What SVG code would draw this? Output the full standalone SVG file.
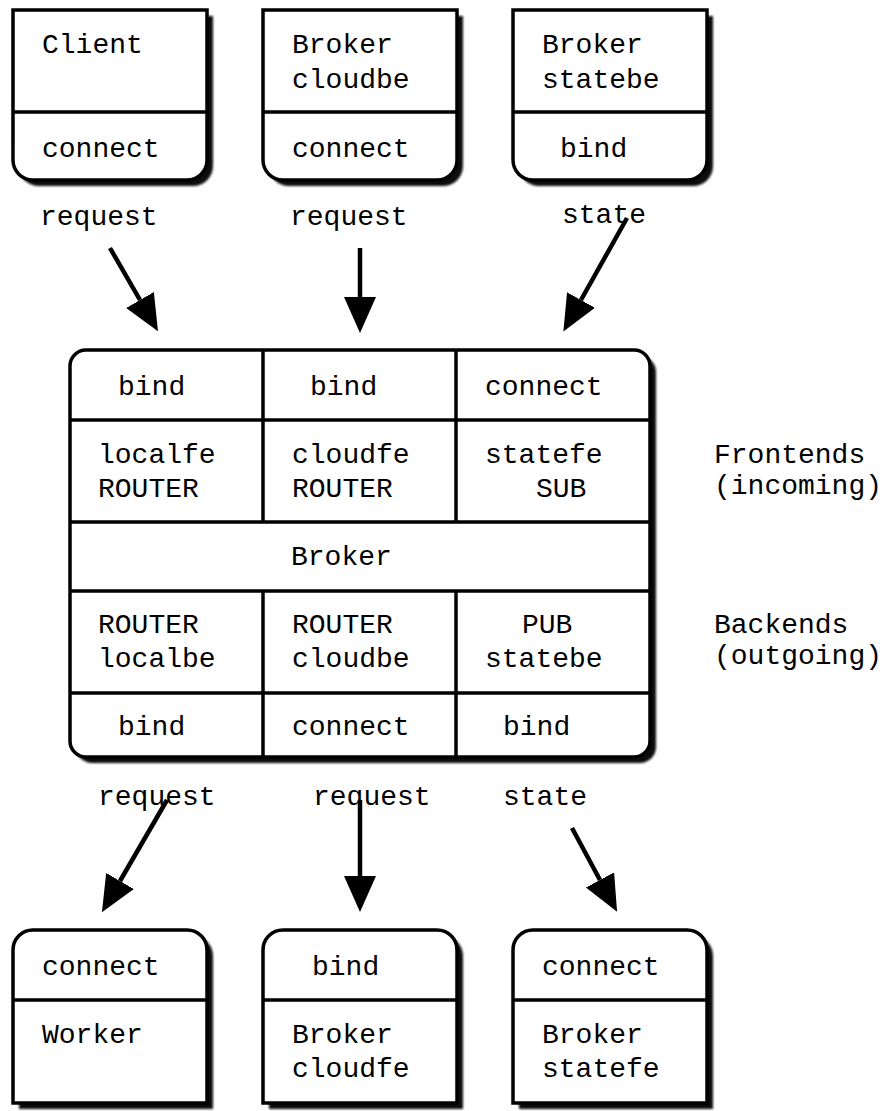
<svg xmlns="http://www.w3.org/2000/svg" width="882" height="1111" viewBox="0 0 882 1111">
<style>
  text { font-family: "Liberation Mono", "Courier New", monospace; font-size: 28px; fill: #000; }
  .box { fill: #fff; stroke: #000; stroke-width: 3.5; }
  .shadow { fill: #111; filter: url(#blur); }
  .div { stroke: #000; stroke-width: 3.5; fill: none; }
  .conn { stroke: #000; stroke-width: 4.5; fill: none; marker-end: url(#head); }
</style>
<defs>
  <filter id="blur" x="-5%" y="-5%" width="110%" height="110%"><feGaussianBlur stdDeviation="1.2"/></filter>
  <marker id="head" markerUnits="userSpaceOnUse" markerWidth="40" markerHeight="34" refX="0" refY="16" orient="auto">
    <path d="M0,0 L36,16 L0,32 Z" fill="#000"/>
  </marker>
</defs>

<g id="client">
  <path class="shadow" d="M19,16 H213 V166 A20,20 0 0 1 193,186 H39 A20,20 0 0 1 19,166 Z"/>
  <path class="box" d="M13,10 H207 V160 A20,20 0 0 1 187,180 H33 A20,20 0 0 1 13,160 Z"/>
  <line class="div" x1="13" y1="112" x2="207" y2="112"/>
  <text x="42" y="53">Client</text>
  <text x="42" y="157">connect</text>
</g>
<g id="broker-cloudbe">
  <path class="shadow" d="M269,16 H463 V166 A20,20 0 0 1 443,186 H289 A20,20 0 0 1 269,166 Z"/>
  <path class="box" d="M263,10 H457 V160 A20,20 0 0 1 437,180 H283 A20,20 0 0 1 263,160 Z"/>
  <line class="div" x1="263" y1="112" x2="457" y2="112"/>
  <text x="292" y="53">Broker</text>
  <text x="292" y="88">cloudbe</text>
  <text x="292" y="157">connect</text>
</g>
<g id="broker-statebe">
  <path class="shadow" d="M519,16 H713 V166 A20,20 0 0 1 693,186 H539 A20,20 0 0 1 519,166 Z"/>
  <path class="box" d="M513,10 H707 V160 A20,20 0 0 1 687,180 H533 A20,20 0 0 1 513,160 Z"/>
  <line class="div" x1="513" y1="112" x2="707" y2="112"/>
  <text x="542" y="53">Broker</text>
  <text x="542" y="88">statebe</text>
  <text x="560" y="157">bind</text>
</g>

<g id="broker">
  <rect class="shadow" x="76" y="356" width="580" height="407" rx="16"/>
  <rect class="box" x="70" y="350" width="580" height="407" rx="16"/>
  <line class="div" x1="70" y1="420" x2="650" y2="420"/>
  <line class="div" x1="70" y1="522" x2="650" y2="522"/>
  <line class="div" x1="70" y1="591" x2="650" y2="591"/>
  <line class="div" x1="70" y1="693" x2="650" y2="693"/>
  <line class="div" x1="263" y1="350" x2="263" y2="522"/>
  <line class="div" x1="456" y1="350" x2="456" y2="522"/>
  <line class="div" x1="263" y1="591" x2="263" y2="757"/>
  <line class="div" x1="456" y1="591" x2="456" y2="757"/>
  <text x="118" y="395">bind</text>
  <text x="310" y="395">bind</text>
  <text x="485" y="395">connect</text>
  <text x="98" y="463">localfe</text>
  <text x="98" y="497">ROUTER</text>
  <text x="292" y="463">cloudfe</text>
  <text x="292" y="497">ROUTER</text>
  <text x="485" y="463">statefe</text>
  <text x="536" y="497">SUB</text>
  <text x="291" y="565">Broker</text>
  <text x="98" y="633">ROUTER</text>
  <text x="98" y="667">localbe</text>
  <text x="292" y="633">ROUTER</text>
  <text x="292" y="667">cloudbe</text>
  <text x="522" y="633">PUB</text>
  <text x="485" y="667">statebe</text>
  <text x="118" y="735">bind</text>
  <text x="292" y="735">connect</text>
  <text x="503" y="735">bind</text>
</g>

<g id="side-labels">
  <text x="714" y="463">Frontends</text>
  <text x="714" y="494">(incoming)</text>
  <text x="714" y="633">Backends</text>
  <text x="714" y="664">(outgoing)</text>
</g>

<g id="worker">
  <path class="shadow" d="M19,956 A20,20 0 0 1 39,936 H193 A20,20 0 0 1 213,956 V1109 H19 Z"/>
  <path class="box" d="M13,950 A20,20 0 0 1 33,930 H187 A20,20 0 0 1 207,950 V1103 H13 Z"/>
  <line class="div" x1="13" y1="1000" x2="207" y2="1000"/>
  <text x="42" y="975">connect</text>
  <text x="42" y="1043">Worker</text>
</g>
<g id="broker-cloudfe">
  <path class="shadow" d="M269,956 A20,20 0 0 1 289,936 H443 A20,20 0 0 1 463,956 V1109 H269 Z"/>
  <path class="box" d="M263,950 A20,20 0 0 1 283,930 H437 A20,20 0 0 1 457,950 V1103 H263 Z"/>
  <line class="div" x1="263" y1="1000" x2="457" y2="1000"/>
  <text x="312" y="975">bind</text>
  <text x="292" y="1043">Broker</text>
  <text x="292" y="1077">cloudfe</text>
</g>
<g id="broker-statefe">
  <path class="shadow" d="M519,956 A20,20 0 0 1 539,936 H693 A20,20 0 0 1 713,956 V1109 H519 Z"/>
  <path class="box" d="M513,950 A20,20 0 0 1 533,930 H687 A20,20 0 0 1 707,950 V1103 H513 Z"/>
  <line class="div" x1="513" y1="1000" x2="707" y2="1000"/>
  <text x="542" y="975">connect</text>
  <text x="542" y="1043">Broker</text>
  <text x="542" y="1077">statefe</text>
</g>

<g id="connectors">
  <line class="conn" x1="110" y1="248" x2="140" y2="300"/>
  <line class="conn" x1="360" y1="248" x2="360" y2="297"/>
  <line class="conn" x1="627" y1="218" x2="581" y2="300"/>
  <line class="conn" x1="167" y1="800" x2="120" y2="881"/>
  <line class="conn" x1="360" y1="800" x2="360" y2="876"/>
  <line class="conn" x1="572" y1="828" x2="600" y2="880"/>
  <text x="40" y="225">request</text>
  <text x="290" y="225">request</text>
  <text x="562" y="223">state</text>
  <text x="98" y="805">request</text>
  <text x="313" y="805">request</text>
  <text x="503" y="805">state</text>
</g>
</svg>
